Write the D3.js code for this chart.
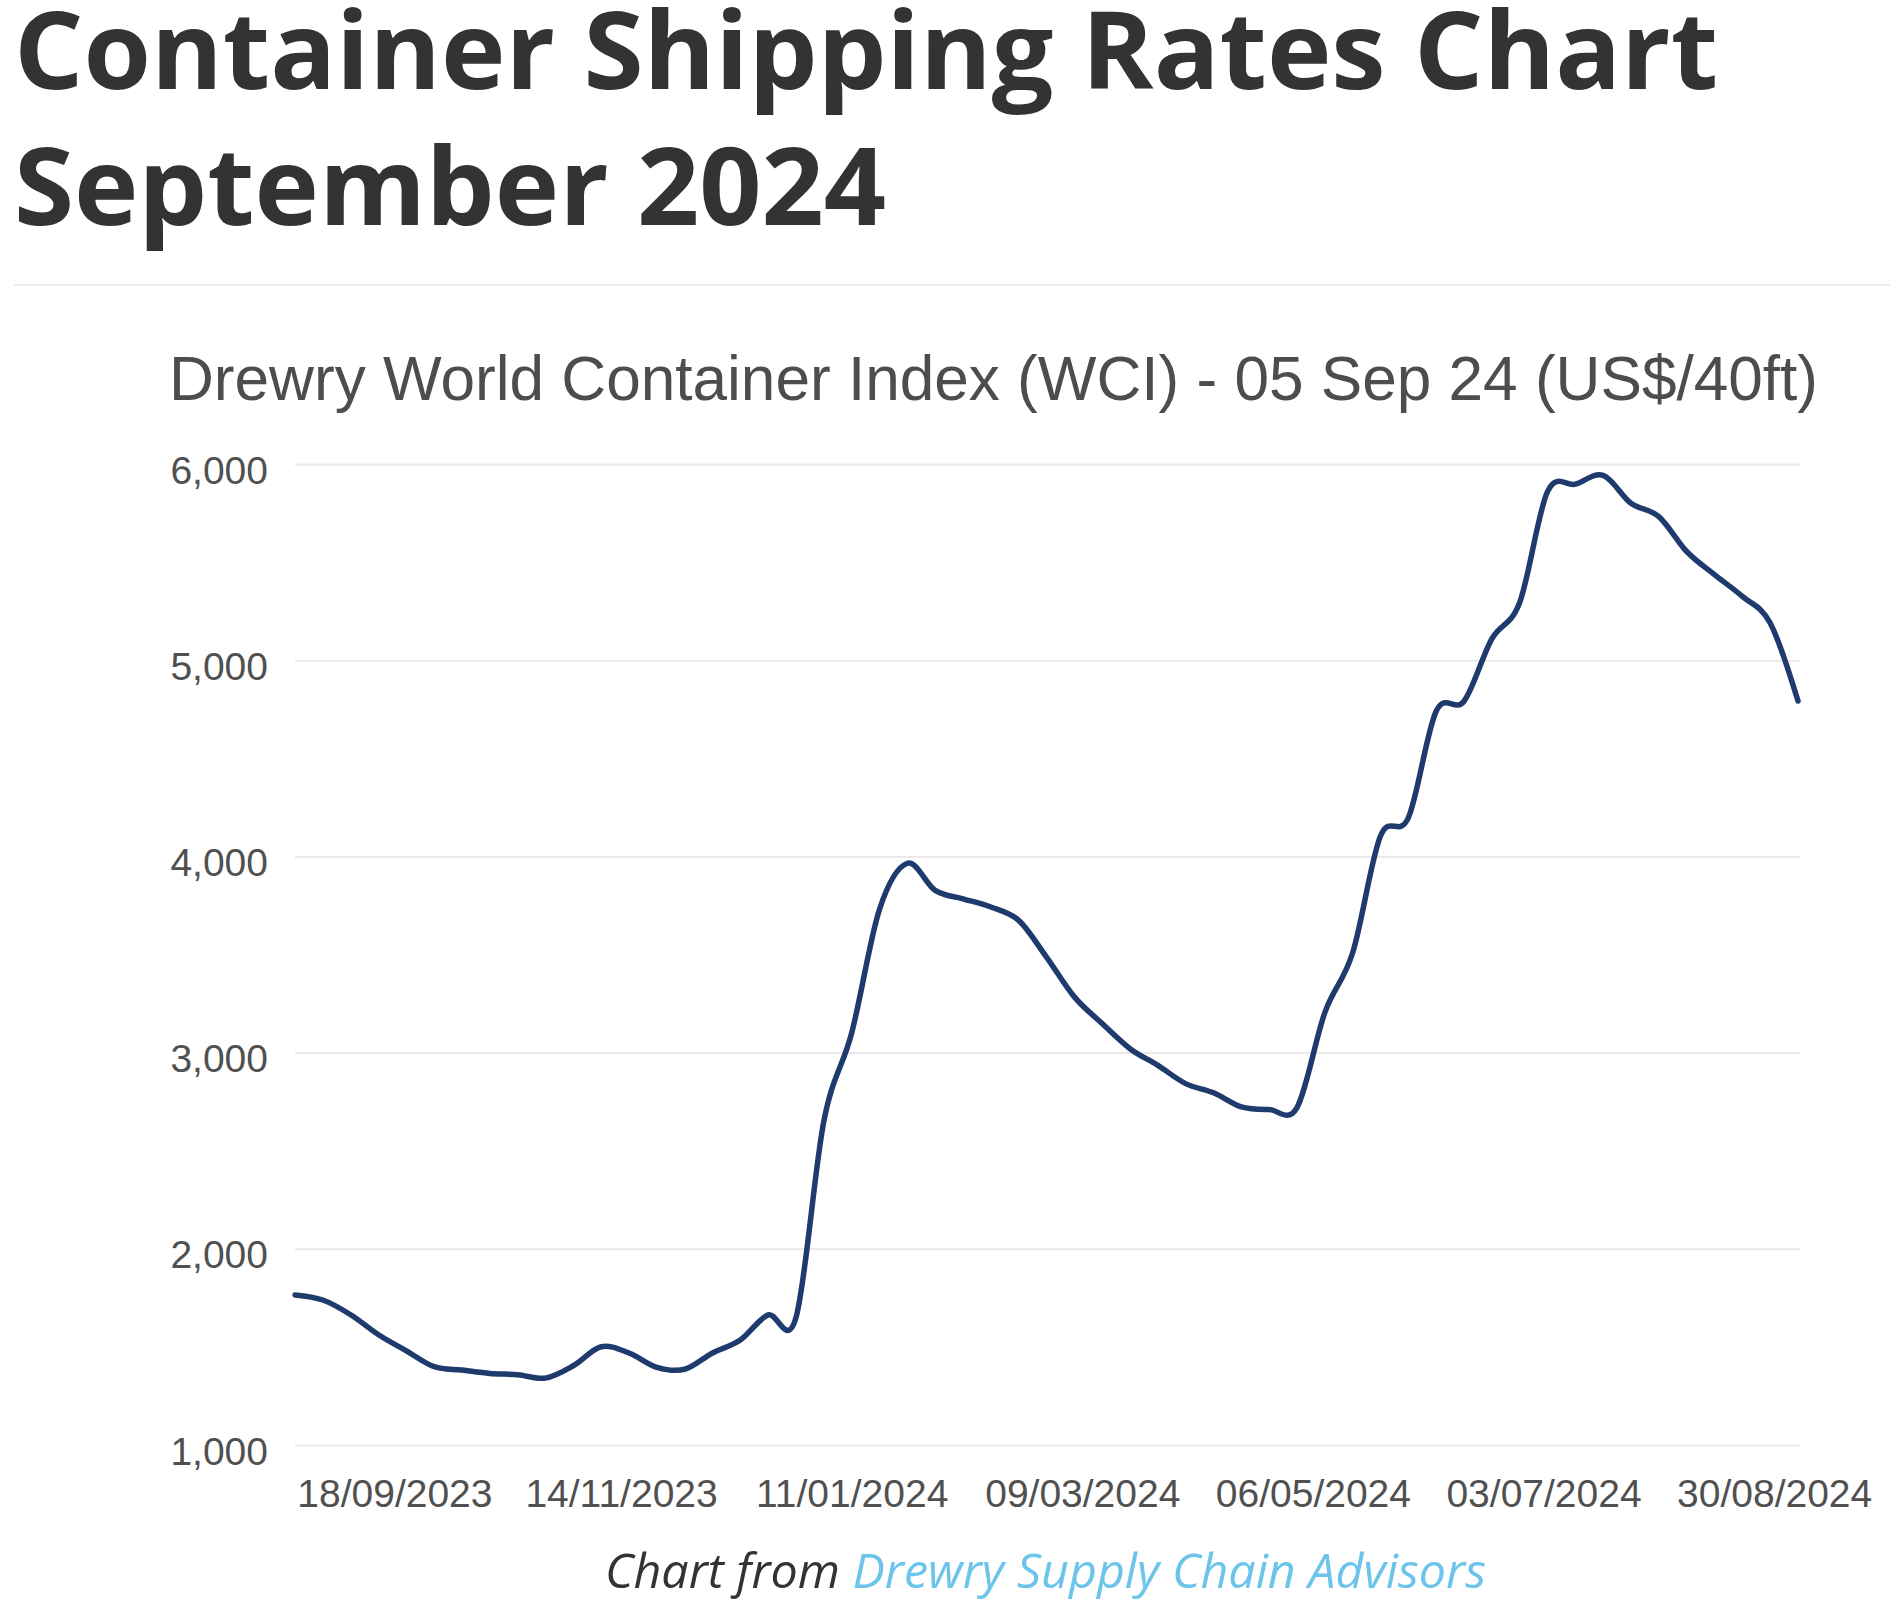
<!DOCTYPE html>
<html>
<head>
<meta charset="utf-8">
<script src="https://cdn.jsdelivr.net/npm/d3@7"></script>
<style>
  html, body { margin: 0; padding: 0; background: #fff; }
  svg { display: block; }
</style>
</head>
<body>
<svg id="chart" width="1890" height="1609"></svg>
<script>
// ---- data ----
const titleLines = ["Container Shipping Rates Chart", "September 2024"];
const subtitle = "Drewry World Container Index (WCI) - 05 Sep 24 (US$/40ft)";
const footerPrefix = "Chart from ";
const footerLink = "Drewry Supply Chain Advisors";

const dates = [
  "2023-08-24","2023-08-31","2023-09-07","2023-09-14","2023-09-21","2023-09-28",
  "2023-10-05","2023-10-12","2023-10-19","2023-10-26",
  "2023-11-02","2023-11-09","2023-11-16","2023-11-23","2023-11-30",
  "2023-12-07","2023-12-14","2023-12-21","2023-12-28",
  "2024-01-04","2024-01-11","2024-01-18","2024-01-25",
  "2024-02-01","2024-02-08","2024-02-15","2024-02-22","2024-02-29",
  "2024-03-07","2024-03-14","2024-03-21","2024-03-28",
  "2024-04-04","2024-04-11","2024-04-18","2024-04-25",
  "2024-05-02","2024-05-09","2024-05-16","2024-05-23","2024-05-30",
  "2024-06-06","2024-06-13","2024-06-20","2024-06-27",
  "2024-07-04","2024-07-11","2024-07-18","2024-07-25",
  "2024-08-01","2024-08-08","2024-08-15","2024-08-22","2024-08-29",
  "2024-09-05"
];
const wci = [
  1765, 1739, 1664, 1562, 1480, 1399,
  1382, 1365, 1358, 1341,
  1404, 1501, 1469, 1396, 1386,
  1469, 1535, 1663, 1650,
  2650, 3100, 3730, 3965,
  3827, 3784, 3742, 3674, 3487,
  3284, 3148, 3020, 2935,
  2842, 2795, 2723, 2710,
  2720, 3204, 3509, 4104, 4197,
  4740, 4791, 5109, 5294,
  5859, 5897, 5942, 5800,
  5732, 5554, 5436, 5325, 5190,
  4792
];
const xTickDates = ["2023-09-18","2023-11-14","2024-01-11","2024-03-09","2024-05-06","2024-07-03","2024-08-30"];
const xTickLabels = ["18/09/2023","14/11/2023","11/01/2024","09/03/2024","06/05/2024","03/07/2024","30/08/2024"];
const yTicks = [1000, 2000, 3000, 4000, 5000, 6000];

// ---- layout ----
const svg = d3.select("#chart");
const parse = d3.utcParse("%Y-%m-%d");
const data = dates.map((d, i) => ({ date: parse(d), value: wci[i] }));

const plotLeft = 295, plotRight = 1800, lineRight = 1798;
const plotTop = 464, plotBottom = 1445;

const x = d3.scaleUtc()
  .domain(d3.extent(data, d => d.date))
  .range([plotLeft, lineRight]);
const y = d3.scaleLinear().domain([1000, 6000]).range([plotBottom, plotTop]);

function fitText(sel, targetWidth) {
  const w = sel.node().getComputedTextLength();
  if (w > 0) sel.attr("textLength", targetWidth).attr("lengthAdjust", "spacingAndGlyphs");
}

// Title
const t1 = svg.append("text")
  .attr("x", 14).attr("y", 89)
  .attr("font-family", "'Open Sans', sans-serif")
  .attr("font-weight", 700).attr("font-size", 108)
  .attr("fill", "#333333")
  .text(titleLines[0]);
fitText(t1, 1704);
const t2 = svg.append("text")
  .attr("x", 14).attr("y", 225)
  .attr("font-family", "'Open Sans', sans-serif")
  .attr("font-weight", 700).attr("font-size", 108)
  .attr("fill", "#333333")
  .text(titleLines[1]);
fitText(t2, 872);

// separator
svg.append("line")
  .attr("x1", 14).attr("x2", 1890).attr("y1", 285).attr("y2", 285)
  .attr("stroke", "#eeeeee").attr("stroke-width", 2);

// Subtitle
const st = svg.append("text")
  .attr("x", 169).attr("y", 400)
  .attr("font-family", "'Liberation Sans', Arial, sans-serif")
  .attr("font-size", 63)
  .attr("fill", "#4d4d4d")
  .text(subtitle);
fitText(st, 1649);

// Y axis with gridlines
const yAxis = d3.axisLeft(y)
  .tickValues(yTicks)
  .tickSize(-(plotRight - plotLeft))
  .tickPadding(27)
  .tickFormat(d3.format(","));
const gy = svg.append("g")
  .attr("transform", `translate(${plotLeft},0)`)
  .call(yAxis);
gy.select(".domain").remove();
gy.selectAll(".tick line").attr("stroke", "#e9e9e9").attr("stroke-width", 2);
gy.selectAll(".tick text")
  .attr("font-family", "'Liberation Sans', Arial, sans-serif")
  .attr("font-size", 39)
  .attr("fill", "#505050")
  .attr("dy", "0.49em");

// X axis
const xAxis = d3.axisBottom(x)
  .tickValues(xTickDates.map(parse))
  .tickSize(0)
  .tickPadding(34)
  .tickFormat((d, i) => xTickLabels[i]);
const gx = svg.append("g")
  .attr("transform", `translate(0,${plotBottom})`)
  .call(xAxis);
gx.select(".domain").remove();
gx.selectAll(".tick text")
  .attr("font-family", "'Liberation Sans', Arial, sans-serif")
  .attr("font-size", 39)
  .attr("fill", "#505050");

// Line
const line = d3.line()
  .x(d => x(d.date))
  .y(d => y(d.value))
  .curve(d3.curveCatmullRom.alpha(0));
svg.append("path")
  .datum(data)
  .attr("d", line)
  .attr("fill", "none")
  .attr("stroke", "#1f3a6d")
  .attr("stroke-width", 5.5)
  .attr("stroke-linejoin", "round")
  .attr("stroke-linecap", "round");

// Footer
const ft = svg.append("text")
  .attr("x", 605).attr("y", 1588)
  .attr("font-family", "'Open Sans', sans-serif")
  .attr("font-style", "italic")
  .attr("font-size", 48);
ft.append("tspan").attr("fill", "#333333").text(footerPrefix);
ft.append("tspan").attr("fill", "#6cc4ea").text(footerLink);
fitText(ft, 881);
</script>
</body>
</html>
